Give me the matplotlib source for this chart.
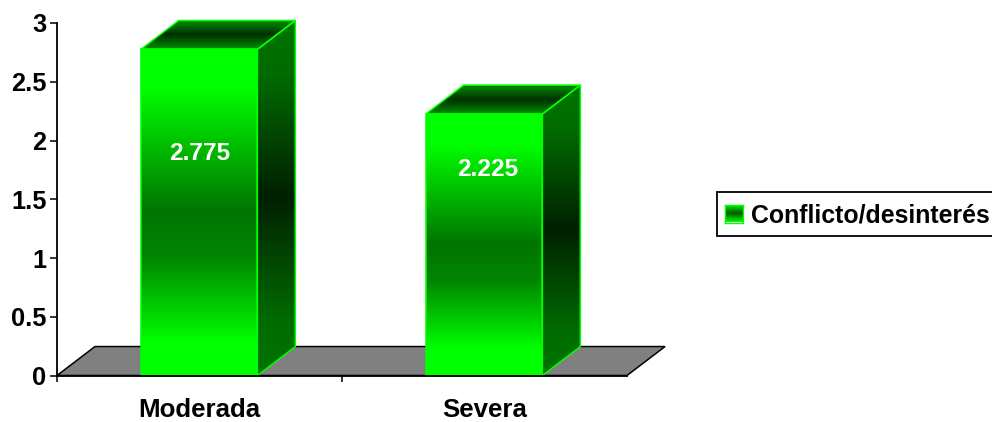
import numpy as np
import matplotlib as mpl
mpl.use('Agg')
import matplotlib.pyplot as plt
from matplotlib.colors import LinearSegmentedColormap
from matplotlib.patches import Polygon, Rectangle

plt.rcParams['font.family'] = ['Liberation Sans', 'DejaVu Sans']
plt.rcParams['font.weight'] = 'bold'

categories = ['Moderada', 'Severa']
values = [2.775, 2.225]
series_name = 'Conflicto/desinterés'
y_ticks = [0, 0.5, 1, 1.5, 2, 2.5, 3]
y_tick_labels = ['0', '0.5', '1', '1.5', '2', '2.5', '3']

W, H = 992, 422
bar_left = -0.206
bar_width = 0.409
depth_x = 38 / 285
depth_y = 29 / 117.67

front_cmap = LinearSegmentedColormap.from_list(
    'front', [(0, '#00ff00'), (0.12, '#00ff00'), (0.5, '#007400'), (0.64, '#008600'), (0.9, '#00ff00'), (1, '#00ff00')])
side_cmap = LinearSegmentedColormap.from_list(
    'side', [(0, '#007400'), (0.15, '#006c00'), (0.5, '#002000'), (0.85, '#006c00'), (1, '#007400')])
top_cmap = LinearSegmentedColormap.from_list('top', ['#009000', '#003000', '#009000'])
ramp = np.linspace(0, 1, 256).reshape(-1, 1)

fig = plt.figure(figsize=(W / 100, H / 100), dpi=100)
ax = fig.add_axes([57 / W, 1 - 375.5 / H, 570 / W, 352.5 / H])
ax.set_xlim(-0.5, 1.5)
ax.set_ylim(0, 3)


def shaded_face(pts, cmap, zorder):
    # vertical gradient clipped to a polygon, with a bright outline
    pts = np.array(pts)
    outline = Polygon(pts, closed=True, facecolor='none', edgecolor='#00ff00',
                      linewidth=1.1, zorder=zorder + 0.1, clip_on=False)
    ax.add_patch(outline)
    extent = [pts[:, 0].min(), pts[:, 0].max(), pts[:, 1].min(), pts[:, 1].max()]
    im = ax.imshow(ramp, cmap=cmap, extent=extent, aspect='auto', origin='upper',
                   vmin=0, vmax=1, zorder=zorder)
    im.set_clip_box(fig.bbox)
    im.set_clip_path(outline)


# grey floor
floor = Polygon([(-0.5, 0), (1.5, 0), (1.5 + depth_x, depth_y), (-0.5 + depth_x, depth_y)],
                closed=True, facecolor='#808080', edgecolor='black', linewidth=1.1,
                clip_on=False, zorder=1)
ax.add_patch(floor)

label_drop = [104, 55]
label_shift = [0, 3]

for i, v in enumerate(values):
    x0 = i + bar_left
    x1 = x0 + bar_width
    shaded_face([(x0, 0), (x1, 0), (x1, v), (x0, v)], front_cmap, 3)
    shaded_face([(x1, 0), (x1 + depth_x, depth_y), (x1 + depth_x, v + depth_y), (x1, v)], side_cmap, 2)
    shaded_face([(x0, v), (x1, v), (x1 + depth_x, v + depth_y), (x0 + depth_x, v + depth_y)], top_cmap, 2)
    ax.annotate(str(v), xy=(i, v), xytext=(label_shift[i] * 0.72, -label_drop[i] * 0.72),
                textcoords='offset points', ha='center', va='center',
                color='white', fontsize=17.6, fontweight='bold', zorder=5)

ax.set_xlim(-0.5, 1.5)
ax.set_ylim(0, 3)

for s in ['top', 'right']:
    ax.spines[s].set_visible(False)
for s in ['left', 'bottom']:
    ax.spines[s].set_linewidth(1.3)
    ax.spines[s].set_zorder(4)
ax.patch.set_visible(False)

ax.set_yticks(y_ticks)
ax.set_yticklabels(y_tick_labels, fontsize=18.3, fontweight='bold')
ax.tick_params(axis='y', length=5, width=1.1, pad=2.5)
ax.set_xticks([0, 1])
ax.set_xticklabels(categories, fontsize=18.6, fontweight='bold')
ax.set_xticks([-0.5, 0.5], minor=True)
ax.tick_params(axis='x', which='major', length=0, pad=16)
ax.tick_params(axis='x', which='minor', length=4, width=1.1)

# legend box runs off the right edge of the figure
fig.add_artist(Rectangle((717 / W, 1 - 236 / H), 290 / W, 44 / H, transform=fig.transFigure,
                         facecolor='white', edgecolor='black', linewidth=1.3, zorder=0))
swatch = fig.add_axes([724.5 / W, 1 - 222.5 / H, 18 / W, 18 / H], zorder=5)
swatch.imshow(ramp, cmap=LinearSegmentedColormap.from_list('sw', ['#00ff00', '#005a00', '#00ff00']),
              aspect='auto', vmin=0, vmax=1)
swatch.set_xticks([])
swatch.set_yticks([])
for s in swatch.spines.values():
    s.set_color('#00ff00')
    s.set_linewidth(1)
fig.text(751 / W, 1 - 215.5 / H, series_name, fontsize=17.9, fontweight='bold',
         va='center', ha='left', color='black', zorder=6)

fig.savefig('out.png', dpi=100)
